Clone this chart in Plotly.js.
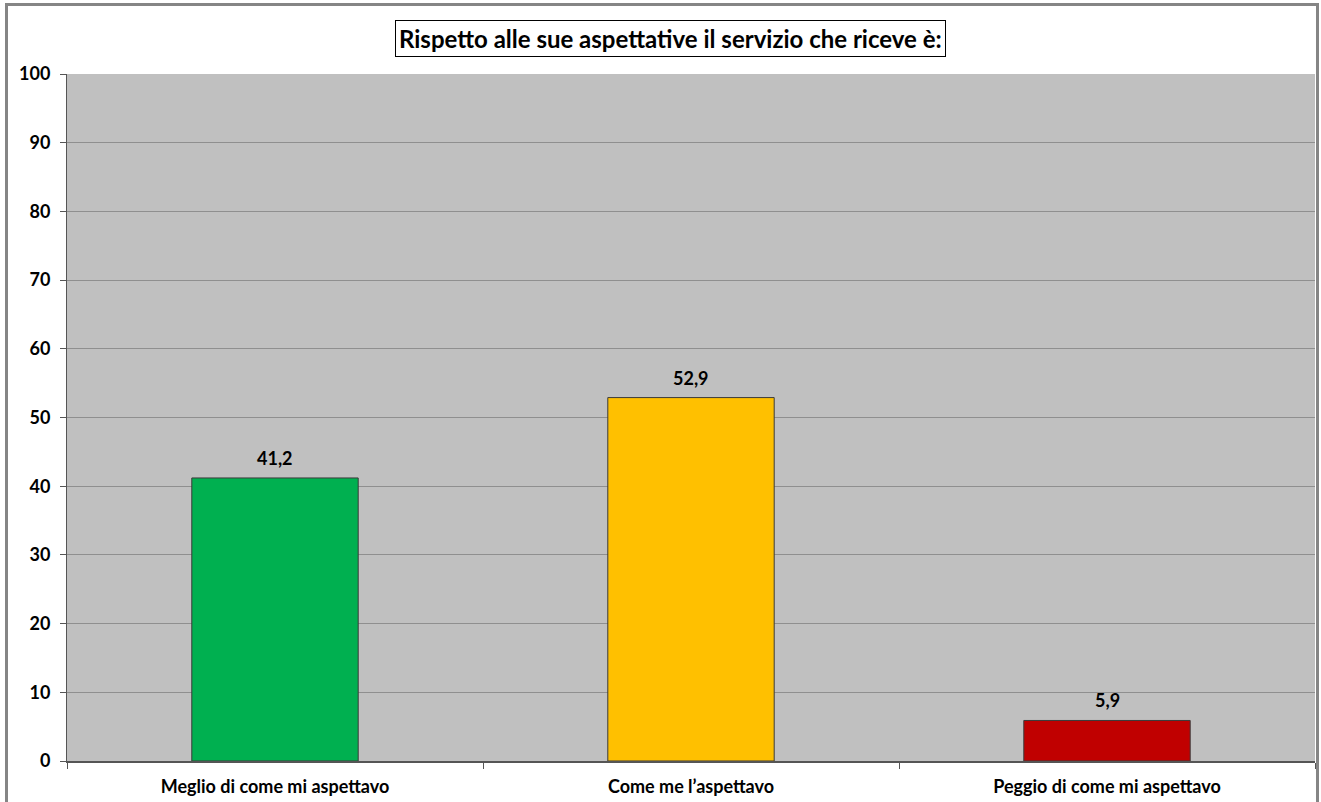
<!DOCTYPE html>
<html>
<head>
<meta charset="utf-8">
<script src="https://cdn.plot.ly/plotly-3.0.1.min.js"></script>
<style>
html,body{margin:0;padding:0;background:#fff;overflow:hidden;}
#frame{position:absolute;left:5px;top:3px;width:1314px;height:820px;border:3px solid #858585;box-sizing:border-box;pointer-events:none;z-index:10;}
#chart{position:absolute;left:0;top:0;width:1321px;height:802px;}
</style>
</head>
<body>
<div id="chart"></div>
<div id="frame"></div>
<script>
const categories = ["Meglio di come mi aspettavo", "Come me l\u2019aspettavo", "Peggio di come mi aspettavo"];
const values = [41.2, 52.9, 5.9];
const barColors = ["#00B050", "#FFC000", "#C00000"];
const titleText = "Rispetto alle sue aspettative il servizio che riceve è:";
const yTicks = [0,10,20,30,40,50,60,70,80,90,100];

const FONT = "Lato, 'Open Sans', sans-serif";

const trace = {
  type: "bar",
  x: categories,
  y: values,
  marker: {color: barColors, line: {color: "#3a3a3a", width: 1}},
  width: 0.4,
  hoverinfo: "skip"
};

const labelAnns = categories.map((c, i) => ({
  x: c, y: values[i], xref: "x", yref: "y",
  text: values[i].toFixed(1).replace(".", ","),
  showarrow: false, yanchor: "bottom", yshift: 7,
  font: {family: FONT, size: 18, color: "#000", weight: "bold"}
}));

const layout = {
  width: 1321, height: 802,
  margin: {l: 67, r: 6, t: 74, b: 41},
  paper_bgcolor: "#ffffff",
  plot_bgcolor: "#C0C0C0",
  showlegend: false,
  separators: ",.",
  font: {family: FONT, size: 18, color: "#000"},
  xaxis: {
    type: "category",
    tickson: "boundaries",
    ticks: "outside", ticklen: 6, tickcolor: "#555",
    showline: true, linecolor: "#555", linewidth: 2,
    showgrid: false,
    tickfont: {family: FONT, size: 18, color: "#000", weight: "bold"},
    ticklabelstandoff: 8,
    fixedrange: true
  },
  yaxis: {
    range: [0, 100],
    tickvals: yTicks,
    ticks: "outside", ticklen: 6, tickcolor: "#555",
    showline: true, linecolor: "#555", linewidth: 1,
    showgrid: true, gridcolor: "#8f8f8f", gridwidth: 1,
    zeroline: false,
    tickfont: {family: FONT, size: 18, color: "#000", weight: "bold"},
    ticklabelstandoff: 6,
    fixedrange: true
  },
  annotations: labelAnns.concat([{
    text: titleText,
    xref: "paper", yref: "paper",
    x: 0.4836, y: 1.051, xanchor: "center", yanchor: "middle",
    showarrow: false,
    font: {family: FONT, size: 24, color: "#000", weight: "bold"},
    bordercolor: "#000", borderwidth: 1, borderpad: 3,
    bgcolor: "#fff"
  }])
};

Plotly.newPlot("chart", [trace], layout, {displayModeBar: false, staticPlot: true});
</script>
</body>
</html>
